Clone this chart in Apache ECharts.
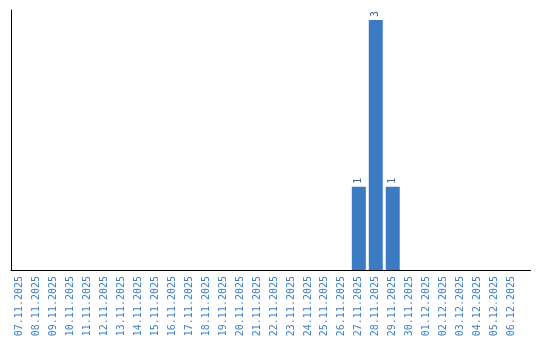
<!DOCTYPE html>
<html>
<head>
<meta charset="utf-8">
<script src="https://cdn.jsdelivr.net/npm/echarts@6/dist/echarts.min.js"></script>
<style>html,body{margin:0;padding:0;background:#fff}#c{width:540px;height:340px}</style>
</head>
<body>
<div id="c"></div>
<script>
var categories = ["07.11.2025","08.11.2025","09.11.2025","10.11.2025","11.11.2025","12.11.2025","13.11.2025","14.11.2025","15.11.2025","16.11.2025","17.11.2025","18.11.2025","19.11.2025","20.11.2025","21.11.2025","22.11.2025","23.11.2025","24.11.2025","25.11.2025","26.11.2025","27.11.2025","28.11.2025","29.11.2025","30.11.2025","01.12.2025","02.12.2025","03.12.2025","04.12.2025","05.12.2025","06.12.2025"];
var counts = [null,null,null,null,null,null,null,null,null,null,null,null,null,null,null,null,null,null,null,null,1,3,1,null,null,null,null,null,null,null];

var chart = echarts.init(document.getElementById('c'), null, {renderer: 'canvas'});
chart.setOption({
  animation: false,
  backgroundColor: '#ffffff',
  grid: {left: 11, right: 20, top: 10, bottom: 70, containLabel: false},
  xAxis: {
    type: 'category',
    data: categories,
    axisLine: {lineStyle: {color: '#000', width: 1}},
    axisTick: {show: false},
    axisLabel: {
      rotate: 90, interval: 0, margin: 6,
      color: '#3d7fc6', fontFamily: 'DejaVu Sans Mono', fontSize: 10
    }
  },
  yAxis: {
    type: 'value', min: 0, max: 3.12,
    axisLine: {show: true, lineStyle: {color: '#000', width: 1}},
    axisTick: {show: false},
    axisLabel: {show: false},
    splitLine: {show: false}
  },
  graphic: [{
    type: 'line', z: 10,
    shape: {x1: 520, y1: 270.5, x2: 531, y2: 270.5},
    style: {stroke: '#000', lineWidth: 1}
  }],
  series: [{
    type: 'bar',
    data: counts,
    barWidth: 14,
    itemStyle: {color: '#3b7bc4'},
    label: {
      show: true, position: 'top', rotate: 90, distance: 3,
      align: 'left', verticalAlign: 'middle',
      color: '#44608a', fontFamily: 'DejaVu Sans Mono', fontSize: 10
    }
  }]
});
</script>
</body>
</html>
